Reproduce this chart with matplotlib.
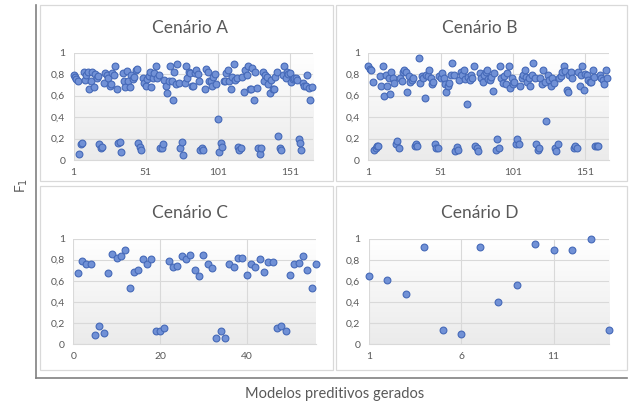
import numpy as np
import matplotlib
matplotlib.use("Agg")
import matplotlib.pyplot as plt
from matplotlib.patches import Rectangle

plt.rcParams['font.family'] = ['Lato', 'DejaVu Sans']

# F1 of each generated model, per scenario
f1_a = [0.795, 0.77, 0.75, 0.735, 0.057, 0.15, 0.155, 0.82, 0.74, 0.79,
        0.82, 0.66, 0.735, 0.82, 0.675, 0.80, 0.76, 0.78, 0.15, 0.11, 0.125,
        0.72, 0.81, 0.79, 0.76, 0.69, 0.71, 0.81, 0.79, 0.875, 0.66,
        0.157, 0.17, 0.07, 0.81, 0.735, 0.675, 0.83, 0.735, 0.68, 0.79, 0.75,
        0.77, 0.84, 0.845, 0.155, 0.125, 0.09, 0.765, 0.72, 0.69, 0.75, 0.78,
        0.82, 0.675, 0.765, 0.805, 0.875, 0.765, 0.79, 0.11, 0.11, 0.15, 0.74,
        0.685, 0.625, 0.735, 0.875, 0.735, 0.555, 0.82, 0.705, 0.89, 0.715,
        0.11, 0.17, 0.045, 0.72, 0.875, 0.765, 0.82, 0.81, 0.685, 0.69,
        0.81, 0.84, 0.80, 0.735, 0.095, 0.11, 0.095, 0.66, 0.845, 0.82, 0.735,
        0.735, 0.69, 0.77, 0.8, 0.71, 0.38, 0.07, 0.157, 0.125, 0.735,
        0.735, 0.81, 0.84, 0.735, 0.66, 0.775, 0.89, 0.74, 0.765, 0.125,
        0.095, 0.11, 0.775, 0.63, 0.84, 0.79, 0.875, 0.66, 0.66, 0.86,
        0.56, 0.82, 0.67, 0.11, 0.057, 0.11, 0.82, 0.735, 0.79, 0.77, 0.71,
        0.625, 0.74, 0.66, 0.66, 0.775, 0.82, 0.225, 0.11, 0.095, 0.79,
        0.875, 0.76, 0.82, 0.80, 0.81, 0.725, 0.75, 0.76, 0.765, 0.74, 0.2, 0.157,
        0.095, 0.72, 0.69, 0.69, 0.79, 0.67, 0.555, 0.68]

f1_b = [0.87, 0.85, 0.84, 0.73, 0.095, 0.11, 0.13, 0.13, 0.78, 0.69,
        0.87, 0.6, 0.79, 0.685, 0.765, 0.615, 0.82, 0.76, 0.715, 0.15,
        0.175, 0.11, 0.765, 0.735, 0.82, 0.84, 0.82, 0.635, 0.78, 0.73,
        0.74, 0.76, 0.13, 0.15, 0.13, 0.95, 0.72, 0.78, 0.76, 0.575,
        0.79, 0.78, 0.835, 0.76, 0.71, 0.725, 0.15, 0.115, 0.115, 0.785,
        0.76, 0.81, 0.76, 0.71, 0.635, 0.685, 0.72, 0.79, 0.9, 0.795,
        0.08, 0.125, 0.095, 0.74, 0.82, 0.79, 0.84, 0.75, 0.52, 0.775,
        0.74, 0.79, 0.765, 0.87, 0.13, 0.11, 0.08, 0.81, 0.76, 0.73,
        0.79, 0.82, 0.84, 0.75, 0.74, 0.775, 0.645, 0.81, 0.095, 0.195,
        0.11, 0.87, 0.76, 0.715, 0.78, 0.71, 0.81, 0.87, 0.67, 0.76,
        0.71, 0.73, 0.15, 0.195, 0.15, 0.685, 0.76, 0.79, 0.84, 0.775,
        0.73, 0.76, 0.685, 0.79, 0.9, 0.76, 0.15, 0.095, 0.11, 0.765,
        0.71, 0.835, 0.73, 0.365, 0.79, 0.74, 0.685, 0.765, 0.72, 0.11,
        0.08, 0.15, 0.76, 0.78, 0.82, 0.87, 0.825, 0.65, 0.63, 0.79,
        0.82, 0.765, 0.115, 0.13, 0.11, 0.82, 0.685, 0.79, 0.87, 0.65,
        0.80, 0.79, 0.74, 0.725, 0.73, 0.84, 0.77, 0.13, 0.13, 0.13,
        0.79, 0.76, 0.74, 0.71, 0.84, 0.76]

f1_c = [0.676, 0.786, 0.758, 0.758, 0.088, 0.17, 0.107, 0.676, 0.849, 0.814,
        0.836, 0.887, 0.528, 0.682, 0.70, 0.805, 0.758, 0.805, 0.123, 0.123,
        0.151, 0.786, 0.73, 0.736, 0.83, 0.81, 0.84, 0.704, 0.648, 0.84,
        0.758, 0.723, 0.053, 0.123, 0.053, 0.758, 0.73, 0.814, 0.814, 0.657,
        0.758, 0.73, 0.805, 0.682, 0.78, 0.78, 0.151, 0.17, 0.123, 0.657,
        0.758, 0.764, 0.83, 0.70, 0.528, 0.758]

f1_d = [0.65, 0.61, 0.48, 0.92, 0.13, 0.095, 0.92, 0.40, 0.565, 0.95,
        0.90, 0.90, 1.0, 0.13]

titles = ["Cenário A", "Cenário B", "Cenário C", "Cenário D"]
xticks_ab = [1, 51, 101, 151]
xticks_c = [0, 20, 40]
xticks_d = [1, 6, 11]
yticks = [0, 0.2, 0.4, 0.6, 0.8, 1]
ylabels = ["0", "0,2", "0,4", "0,6", "0,8", "1"]

W, H = 629, 404
txt = '#595959'
grid = '#d9d9d9'

fig = plt.figure(figsize=(W / 100, H / 100), dpi=100)


def rect(l, t, r, b):
    # pixel box (from top-left) -> figure fraction
    return [l / W, 1 - b / H, (r - l) / W, (b - t) / H]


# outer frame with the shared axis titles
outer = fig.add_axes(rect(36, 5, 627, 378))
outer.set_xticks([])
outer.set_yticks([])
for s in ['top', 'right']:
    outer.spines[s].set_visible(False)
for s in ['left', 'bottom']:
    outer.spines[s].set_color('#808080')
    outer.spines[s].set_linewidth(1.2)
outer.patch.set_alpha(0)
fig.text(335 / W, 1 - 394 / H, "Modelos preditivos gerados", ha='center', va='center',
         fontsize=10.5, color=txt)
fig.text(22 / W, 1 - 185 / H, "F$_1$", ha='center', va='center', rotation=90,
         fontsize=10, color=txt)

# panel boxes
for l, t, r, b in [(40, 5, 333, 181), (336, 5, 627, 181), (40, 186, 333, 370), (336, 186, 627, 370)]:
    fig.patches.append(Rectangle((l / W, 1 - b / H), (r - l) / W, (b - t) / H,
                                 transform=fig.transFigure, fill=False,
                                 edgecolor=grid, linewidth=0.9))

panels = [
    (f1_a, (73.5, 52.5, 313, 160), (1, 167), xticks_ab, (190, 28)),
    (f1_b, (368.3, 52.5, 608.5, 160), (1, 167), xticks_ab, (480, 28)),
    (f1_c, (73.3, 238.5, 316, 344), (0, 56), xticks_c, (190, 213)),
    (f1_d, (368.7, 239, 609, 344), (1, 14), xticks_d, (480, 213)),
]

grad = np.linspace(1, 0, 100).reshape(-1, 1)

for (vals, box, xl, xt, tpos), title in zip(panels, titles):
    ax = fig.add_axes(rect(*box))
    x0 = 0 if xl[0] == 0 else 1
    xs = np.arange(len(vals)) + (1 if x0 == 1 else 1)
    ax.imshow(grad, extent=[0, 1, 0, 1], transform=ax.transAxes, aspect='auto',
              cmap=matplotlib.colors.LinearSegmentedColormap.from_list('g', ['#ebebeb', '#ffffff']),
              vmin=0, vmax=1, zorder=0)
    ax.scatter(xs, vals, s=24, facecolor='#7191d6', edgecolor='#4569b8', linewidth=0.8,
               zorder=3, clip_on=False)
    ax.set_xlim(*xl)
    ax.set_ylim(0, 1)
    ax.set_xticks(xt)
    ax.set_yticks(yticks)
    ax.set_yticklabels(ylabels)
    ax.grid(True, color=grid, linewidth=0.8, zorder=1)
    ax.set_axisbelow(True)
    ax.tick_params(length=0, labelsize=7.5, labelcolor=txt, pad=6)
    for s in ax.spines.values():
        s.set_visible(False)
    ax.spines['bottom'].set_visible(True)
    ax.spines['bottom'].set_color(grid)
    fig.text(tpos[0] / W, 1 - tpos[1] / H, title, ha='center', va='center',
             fontsize=12.5, color=txt)

fig.savefig("out.png", dpi=100)
